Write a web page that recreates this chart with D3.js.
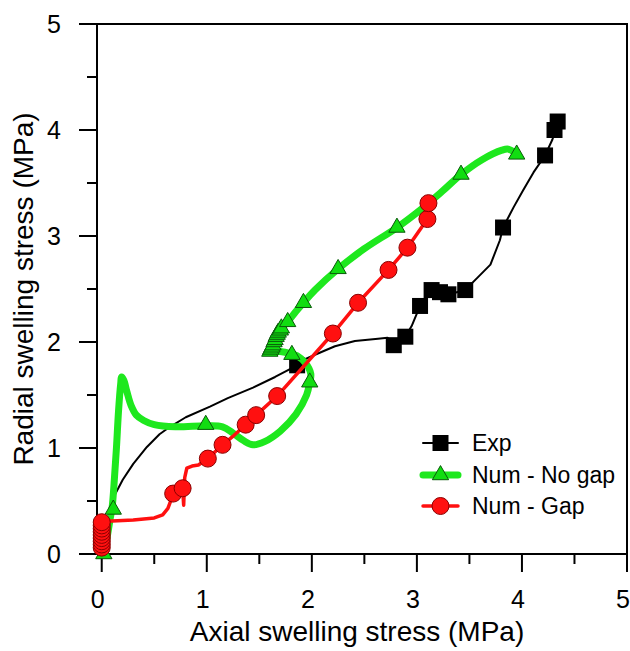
<!DOCTYPE html>
<html><head><meta charset="utf-8">
<script src="https://cdn.jsdelivr.net/npm/d3@7"></script>
<style>body{margin:0;background:#fff}svg{display:block;font-family:"Liberation Sans",Arial,sans-serif}</style>
</head><body><svg id="c" width="630" height="651"></svg>
<script>
// ---- data (MPa) ----
const expLineX = [0,0.02,0.05,0.08,0.12,0.2,0.3,0.43,0.55,0.65,0.8,1.03,1.2,1.44,1.65,1.86,1.92,2.03,2.22,2.41,2.63,2.72,2.78,2.84,2.89,2.95,3.03,3.1,3.14,3.22,3.30,3.38,3.46,3.57,3.70,3.79,3.82,3.92,4.01,4.11,4.22,4.29,4.32,4.34];
const expLineY = [0,0.15,0.3,0.42,0.55,0.70,0.85,1.01,1.13,1.20,1.29,1.39,1.47,1.57,1.67,1.78,1.83,1.88,1.96,2.01,2.03,2.04,1.99,2.01,2.05,2.15,2.34,2.45,2.49,2.47,2.45,2.47,2.49,2.60,2.73,2.96,3.08,3.27,3.43,3.60,3.76,3.91,4.00,4.08];
const expMarkX = [1.86,2.78,2.89,3.03,3.14,3.22,3.30,3.46,3.82,4.22,4.31,4.34];
const expMarkY = [1.78,1.97,2.05,2.34,2.49,2.47,2.45,2.49,3.08,3.76,4.00,4.08];

const noGapLineX = [0.02,0.05,0.08,0.10,0.12,0.14,0.16,0.18,0.19,0.21,0.24,0.28,0.33,0.40,0.50,0.70,1.00,1.15,1.25,1.35,1.44,1.55,1.70,1.85,1.95,1.98,1.99,1.94,1.86,1.80,1.70,1.61,1.63,1.66,1.69,1.73,1.77,1.85,1.92,2.03,2.25,2.50,2.81,3.05,3.24,3.42,3.62,3.81,3.87,3.95];
const noGapLineY = [0.00,0.15,0.33,0.45,0.70,1.00,1.35,1.60,1.67,1.64,1.53,1.40,1.31,1.26,1.22,1.20,1.21,1.20,1.14,1.07,1.03,1.06,1.16,1.32,1.50,1.62,1.70,1.80,1.87,1.89,1.91,1.91,1.97,2.04,2.10,2.15,2.19,2.29,2.37,2.49,2.69,2.88,3.08,3.26,3.42,3.58,3.72,3.81,3.82,3.77];
const noGapMarkX = [0.02,0.11,0.99,1.98,1.81,1.60,1.61,1.62,1.63,1.64,1.65,1.66,1.67,1.68,1.70,1.71,1.77,1.92,2.25,2.81,3.42,3.95];
const noGapMarkY = [0.00,0.42,1.22,1.62,1.88,1.91,1.93,1.95,1.97,2.00,2.02,2.05,2.07,2.09,2.11,2.13,2.19,2.37,2.69,3.08,3.58,3.77];

const gapLineX = [0,0,0.05,0.30,0.50,0.58,0.63,0.66,0.68,0.73,0.77,0.78,0.79,0.81,0.86,0.92,1.01,1.15,1.26,1.37,1.47,1.67,2.20,2.44,2.73,2.91,3.10,3.11];
const gapLineY = [0,0.30,0.31,0.32,0.34,0.37,0.43,0.51,0.57,0.60,0.62,0.46,0.72,0.81,0.83,0.84,0.90,1.03,1.12,1.22,1.31,1.49,2.08,2.37,2.68,2.89,3.16,3.31];
const gapMarkX = [0,0,0,0,0,0,0,0,0,0.68,0.77,1.01,1.15,1.37,1.47,1.67,2.20,2.44,2.73,2.91,3.10,3.11];
const gapMarkY = [0.06,0.09,0.12,0.15,0.18,0.21,0.24,0.27,0.30,0.57,0.62,0.90,1.03,1.22,1.31,1.49,2.08,2.37,2.68,2.89,3.16,3.31];

const xTicks = [0,1,2,3,4,5];
const yTicks = [0,1,2,3,4,5];
const seriesNames = ["Exp","Num - No gap","Num - Gap"];

// ---- layout ----
const svg = d3.select("#c");
const x = d3.scaleLinear().domain([-0.045,5]).range([97,627]);
const y = d3.scaleLinear().domain([0,5]).range([554,24]);
const zip = (a,b)=>a.map((v,i)=>[v,b[i]]);

const greenLine = "#1ee81e", greenFill = "#11dd11", greenStroke = "#0a5a0a";
const red = "#ff1010", redStroke = "#8a0000";

// frame
svg.append("rect").attr("x",x.range()[0]).attr("y",y.range()[1])
  .attr("width",x.range()[1]-x.range()[0]).attr("height",y.range()[0]-y.range()[1])
  .attr("fill","none").attr("stroke","#000").attr("stroke-width",2);

// minor ticks
const minor = d3.range(0,5.01,0.5);
const gx = svg.append("g");
gx.selectAll("line.mx").data(minor).join("line")
  .attr("x1",d=>x(d)).attr("x2",d=>x(d)).attr("y1",554).attr("y2",d=>554+(d%1===0?18:10))
  .attr("stroke","#000").attr("stroke-width",2);
gx.selectAll("text").data(xTicks).join("text")
  .attr("x",d=>x(d)-4).attr("y",608).attr("text-anchor","middle")
  .attr("font-size",25).text(d=>d);
const gy = svg.append("g");
gy.selectAll("line").data(minor).join("line")
  .attr("y1",d=>y(d)).attr("y2",d=>y(d)).attr("x1",97).attr("x2",d=>97-(d%1===0?18:10))
  .attr("stroke","#000").attr("stroke-width",2);
gy.selectAll("text").data(yTicks).join("text")
  .attr("x",61).attr("y",d=>y(d)).attr("dy","0.36em").attr("text-anchor","end")
  .attr("font-size",25).text(d=>d);

svg.append("text").attr("x",357).attr("y",641).attr("text-anchor","middle")
  .attr("font-size",28).text("Axial swelling stress (MPa)");
svg.append("text").attr("transform","translate(33,289) rotate(-90)").attr("text-anchor","middle")
  .attr("font-size",28).text("Radial swelling stress (MPa)");

const line = d3.line().x(d=>x(d[0])).y(d=>y(d[1]));
const plot = svg.append("g");

// Exp
plot.append("path").attr("d",line(zip(expLineX,expLineY))).attr("fill","none")
  .attr("stroke","#000").attr("stroke-width",2).attr("stroke-linejoin","round");
plot.selectAll("path.sq").data(zip(expMarkX,expMarkY)).join("path").attr("class","sq")
  .attr("transform",d=>`translate(${x(d[0])},${y(d[1])})`)
  .attr("d",d3.symbol(d3.symbolSquare,256)).attr("fill","#000");

// No gap
plot.append("path").attr("d",line.curve(d3.curveCatmullRom)(zip(noGapLineX,noGapLineY))).attr("fill","none")
  .attr("stroke",greenLine).attr("stroke-width",7).attr("stroke-linejoin","round").attr("stroke-linecap","round");
plot.selectAll("path.tri").data(zip(noGapMarkX,noGapMarkY)).join("path").attr("class","tri")
  .attr("transform",d=>`translate(${x(d[0])},${y(d[1])})`)
  .attr("d",d3.symbol(d3.symbolTriangle,115)).attr("fill",greenFill).attr("stroke",greenStroke).attr("stroke-width",1);

// Gap
plot.append("path").attr("d",d3.line().x(d=>x(d[0])).y(d=>y(d[1]))(zip(gapLineX,gapLineY))).attr("fill","none")
  .attr("stroke",red).attr("stroke-width",3.5).attr("stroke-linejoin","round");
plot.selectAll("circle").data(zip(gapMarkX,gapMarkY)).join("circle")
  .attr("cx",d=>x(d[0])).attr("cy",d=>y(d[1])).attr("r",8.5)
  .attr("fill",red).attr("stroke",redStroke).attr("stroke-width",1);

// legend
const lg = svg.append("g");
const rows = [443,475,506];
const lw = [2,7,3.5], lc = ["#000",greenLine,red];
seriesNames.forEach((n,i)=>{
  lg.append("line").attr("x1",423).attr("x2",458).attr("y1",rows[i]).attr("y2",rows[i])
    .attr("stroke",lc[i]).attr("stroke-width",lw[i]).attr("stroke-linecap","round");
  const t = `translate(440.5,${rows[i]})`;
  if(i===0) lg.append("path").attr("transform",t).attr("d",d3.symbol(d3.symbolSquare,256)).attr("fill","#000");
  if(i===1) lg.append("path").attr("transform",t).attr("d",d3.symbol(d3.symbolTriangle,115)).attr("fill",greenFill).attr("stroke",greenStroke);
  if(i===2) lg.append("circle").attr("cx",440.5).attr("cy",rows[i]).attr("r",8.5).attr("fill",red).attr("stroke",redStroke);
  lg.append("text").attr("x",472).attr("y",rows[i]).attr("dy","0.36em").attr("font-size",23).text(n);
});
</script></body></html>
